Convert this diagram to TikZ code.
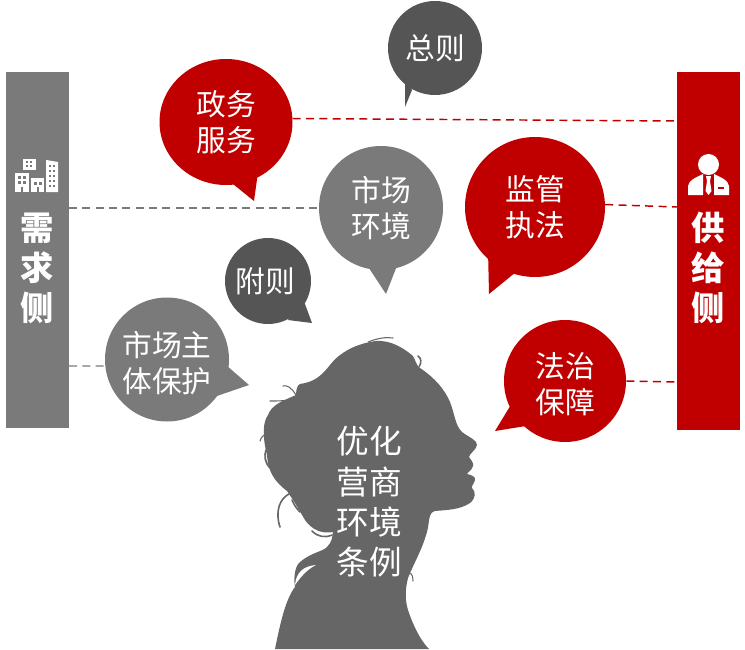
\documentclass[tikz,border=0pt]{standalone}
\usepackage{fontspec}
\usetikzlibrary{shapes.geometric}
\newfontfamily\cjk{Noto Sans CJK SC}
\definecolor{hongse}{HTML}{C00000}
\definecolor{huise}{HTML}{7A7A7A}
\definecolor{shense}{HTML}{555555}
\definecolor{renying}{HTML}{666666}
\tikzset{
 bubble/.style={circle,inner sep=0pt,text=white,align=center,font=\cjk\fontsize{22.3}{27}\selectfont},
 barbox/.style={rectangle,inner sep=0pt,minimum width=47.25pt,text=white},
 link/.style={dash pattern=on 6pt off 4pt,line width=1.1pt},
 bartext/.style={text=white,inner sep=0pt,font=\cjk\bfseries\fontsize{25}{25}\selectfont},
 headtext/.style={text=white,inner sep=0pt,align=center,font=\cjk\fontsize{24.5}{30.25}\selectfont},
 wisp/.style={renying,line width=0.8pt,line cap=round}
}
\begin{document}
\begin{tikzpicture}[x=0.75pt,y=-0.75pt]
\useasboundingbox (0,0) rectangle (745,649);
% bars
\node[barbox,fill=huise,minimum height=267pt] (need) at (37.5,250) {};
\node[barbox,fill=hongse,minimum height=268.5pt] (supply) at (708.5,251) {};
\node[bartext] (n1) at (37.5,228) {需};
\node[bartext] (n2) at (37.5,268) {求};
\node[bartext] (n3) at (37.5,308) {侧};
\node[bartext] (s1) at (708.5,228) {供};
\node[bartext] (s2) at (708.5,268) {给};
\node[bartext] (s3) at (708.5,308) {侧};
% bubbles
\fill[shense] (412,90) -- (405,107) -- (405,76) -- cycle;
\node[bubble,fill=shense,minimum size=70.5pt] (zongze) at (435,48) {总则};
\fill[hongse] (228,180) -- (254,201) -- (259,165) -- cycle;
\node[bubble,ellipse,fill=hongse,minimum width=99.75pt,minimum height=94.5pt] (zwfw) at (226,122) {政务\\服务};
\fill[huise] (365,262) -- (386,294) -- (400,258) -- cycle;
\node[bubble,fill=huise,minimum size=93pt] (scene) at (381,208) {市场\\环境};
\fill[hongse] (488,250) -- (489,294) -- (516,272) -- cycle;
\node[bubble,fill=hongse,minimum size=105pt] (jgzf) at (535,207) {监管\\执法};
\fill[shense] (288,320) -- (312,323) -- (302,296) -- cycle;
\node[bubble,fill=shense,minimum size=64.5pt] (fuze) at (268,281) {附则\kern4.5pt};
\fill[huise] (226,365) -- (249,385) -- (214,397) -- cycle;
\node[bubble,fill=huise,minimum size=93pt] (sczt) at (167,359.5) {\rule{0pt}{25pt}市场主\\体保护};
\fill[hongse] (512,403) -- (495,431) -- (532,425) -- cycle;
\node[bubble,fill=hongse,minimum size=91.5pt] (fzbz) at (565,381) {\rule{0pt}{23pt}法治\\保障};
% connectors
\coordinate (a1) at (69,208); \coordinate (a2) at (69,366);
\coordinate (b1) at (677,121); \coordinate (b2) at (677,207); \coordinate (b3) at (677,382);
\draw[link,hongse] (zwfw.3.5) -- (b1);
\draw[link,hongse] (jgzf.2) -- (b2);
\draw[link,hongse] (fzbz.east) -- (b3);
\draw[link,huise] (a1) -- (scene.west);
\draw[link,huise] (a2) -- (sczt.186.5);
% buildings icon
\fill[white] (23,159) rectangle (36,170);
\fill[white] (15,173) rectangle (29,192);
\fill[white] (31,178) rectangle (44,192);
\fill[white] (46,160) -- (58,162) -- (58,192) -- (46,192) -- cycle;
\foreach \x in {26,30}{\foreach \y in {161,165}{\fill[huise] (\x,\y) rectangle +(2.2,2.2);}}
\foreach \x in {18,23}{\foreach \y in {176,181}{\fill[huise] (\x,\y) rectangle +(2.5,2.5);}}
\foreach \x in {34,39}{\fill[huise] (\x,182) rectangle +(2.5,2.5);}
\foreach \x in {49,53}{\foreach \y in {165,170,175,180,185}{\fill[huise] (\x,\y) rectangle +(2.2,2.2);}}
\foreach \x in {20.5,36.5}{\fill[huise] (\x,187) rectangle +(2.5,5);}
% person icon
\fill[white] (708.5,164.5) circle (10.5);
\fill[white] (688,195) -- (688,186) .. controls (689,180) and (695,178) .. (703,174) -- (703,195) -- cycle;
\fill[white] (729,195) -- (729,186) .. controls (728,180) and (722,178) .. (714,174) -- (714,195) -- cycle;
\fill[white] (706,176) -- (711,176) -- (710,181) -- (711.5,191) -- (708.5,195) -- (705.5,191) -- (707,181) -- cycle;
\fill[hongse] (718,187) rectangle (724,188.5);
% silhouette
\fill[renying] (275,649)
 .. controls (280,625) and (285,600) .. (295,587)
 .. controls (293,575) and (296,565) .. (300,562)
 .. controls (312,552) and (322,552) .. (327,547)
 .. controls (332,542) and (332,538) .. (333,532)
 .. controls (322,534) and (312,530) .. (305,520)
 .. controls (298,508) and (292,498) .. (287,491)
 .. controls (275,482) and (268,472) .. (267,455)
 .. controls (262,435) and (263,422) .. (268,415)
 .. controls (272,405) and (280,402) .. (296,395)
 .. controls (296,388) and (298,385) .. (300,384)
 .. controls (315,382) and (322,375) .. (330,365)
 .. controls (340,352) and (355,345) .. (370,342)
 .. controls (385,338) and (400,345) .. (413,356)
 .. controls (416,362) and (418,368) .. (420,368)
 .. controls (435,378) and (445,390) .. (450,402)
 .. controls (455,415) and (455,425) .. (462,432)
 .. controls (470,438) and (477,440) .. (477,445)
 .. controls (476,450) and (470,453) .. (469,457)
 .. controls (471,460) and (474,463) .. (473,466)
 .. controls (472,470) and (468,472) .. (467,474)
 .. controls (472,475) and (476,477) .. (475,480)
 .. controls (474,484) and (471,486) .. (472,488)
 .. controls (476,492) and (476,498) .. (470,503)
 .. controls (460,510) and (445,510) .. (435,511)
 .. controls (428,513) and (430,520) .. (427,532)
 .. controls (422,550) and (413,565) .. (408,578)
 .. controls (405,590) and (405,600) .. (408,610)
 .. controls (413,625) and (420,640) .. (429,649)
 -- cycle;
% hair wisps
\draw[wisp] (296,395) .. controls (291,387) and (287,385) .. (283,386);
\draw[wisp] (296,398) .. controls (287,401) and (280,401) .. (270,401);
\draw[wisp] (268,434) .. controls (264,434) and (261,437) .. (260,441);
\draw[wisp,line width=1.3pt] (266,450) .. controls (264,456) and (265,463) .. (270,468);
\draw[wisp,line width=1.2pt] (291,493) .. controls (279,498) and (275,512) .. (280,527);
\draw[wisp,line width=1.2pt] (292,500) .. controls (294,505) and (297,509) .. (300,512);
\draw[wisp,line width=1.2pt] (312,531) .. controls (318,537) and (325,538) .. (332,535);
\draw[wisp] (368,342) .. controls (378,338) and (386,337) .. (393,338);
\draw[wisp,line width=1.2pt] (419,367) .. controls (422,362) and (421,358) .. (418,356);
\fill[white] (295,585) .. controls (296,573) and (303,566) .. (316,565) .. controls (306,570) and (300,578) .. (295,585) -- cycle;
\draw[wisp] (409,573) .. controls (412,573) and (413,577) .. (413,581);
\node[headtext] (head) at (369,502) {优化\\营商\\环境\\条例};
\end{tikzpicture}
\end{document}
